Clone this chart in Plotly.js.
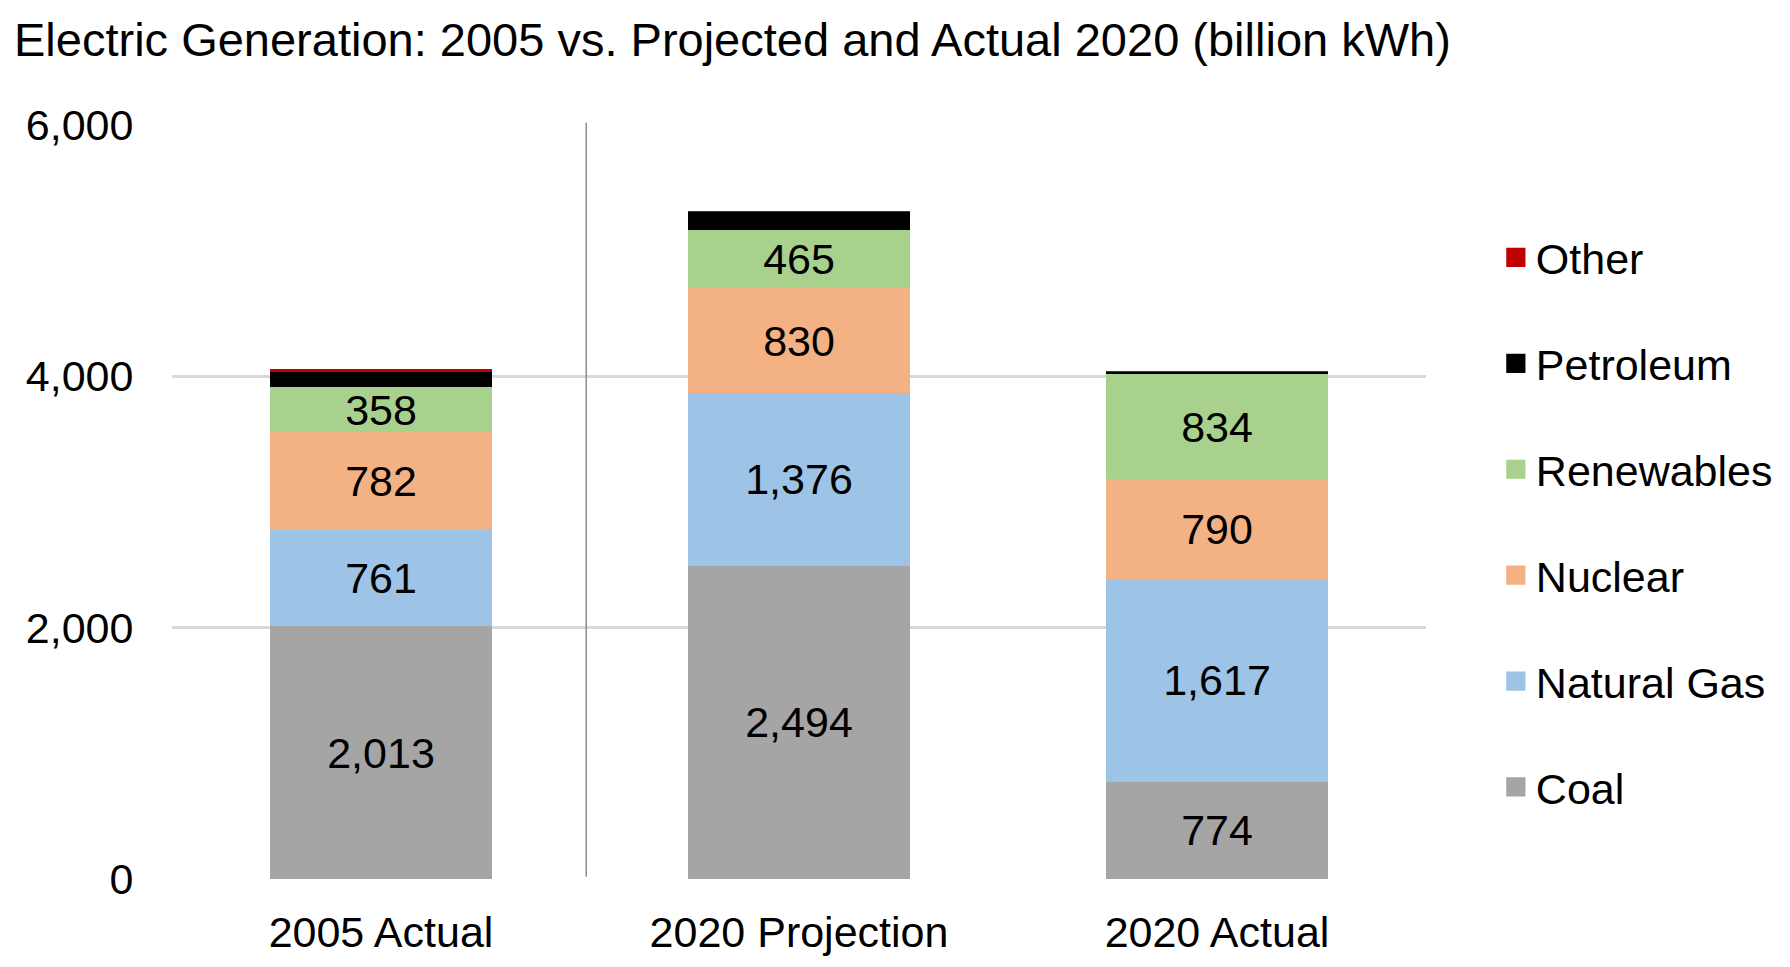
<!DOCTYPE html>
<html>
<head>
<meta charset="utf-8">
<script src="https://cdn.plot.ly/plotly-3.0.1.min.js"></script>
<style>html,body{margin:0;padding:0;background:#fff;}#chart{width:1790px;height:967px;}</style>
</head>
<body>
<div id="chart"></div>
<script>
const categories = ["2005 Actual", "2020 Projection", "2020 Actual"];
const coal = [2013, 2494, 774];
const naturalGas = [761, 1376, 1617];
const nuclear = [782, 830, 790];
const renewables = [358, 465, 834];
const petroleum = [118, 140, 17];
const other = [25, 12, 12];
const yTickVals = [0, 2000, 4000, 6000];

const FONT = '"Liberation Sans", Arial, sans-serif';
const FS = 43;
const series = [
  {name: "Coal", values: coal, color: "#A5A5A5", label: true, rank: 6},
  {name: "Natural Gas", values: naturalGas, color: "#9DC3E6", label: true, rank: 5},
  {name: "Nuclear", values: nuclear, color: "#F4B183", label: true, rank: 4},
  {name: "Renewables", values: renewables, color: "#A9D18E", label: true, rank: 3},
  {name: "Petroleum", values: petroleum, color: "#000000", label: false, rank: 2},
  {name: "Other", values: other, color: "#C00000", label: false, rank: 1}
];

const traces = series.map(s => ({
  type: "bar",
  name: s.name,
  legendgroup: s.name,
  legendrank: s.rank,
  x: categories,
  y: s.values,
  marker: {color: s.color, line: {width: 0}},
  texttemplate: s.label ? "%{y:,d}" : "",
  textposition: s.label ? "inside" : "none",
  insidetextanchor: "middle",
  textfont: {family: FONT, size: FS, color: "#000000"},
  hoverinfo: "x+y+name"
}));

const layout = {
  width: 1790, height: 967,
  barmode: "stack",
  bargap: 0.468,
  paper_bgcolor: "#ffffff",
  plot_bgcolor: "#ffffff",
  font: {family: FONT, size: FS, color: "#000000"},
  margin: {l: 172, r: 362, t: 125, b: 88},
  uniformtext: {mode: "show", minsize: FS},
  title: {
    text: "Electric Generation: 2005 vs. Projected and Actual 2020 (billion kWh)",
    font: {family: FONT, size: 47, color: "#000000"},
    x: 14 / 1790, xanchor: "left", xref: "container",
    y: 1 - 40 / 967, yanchor: "middle", yref: "container"
  },
  xaxis: {
    type: "category",
    showgrid: false, zeroline: false, showline: false,
    ticks: "outside", ticklen: 15, tickcolor: "rgba(0,0,0,0)",
    tickfont: {family: FONT, size: FS, color: "#000000"}
  },
  yaxis: {
    range: [0, 6000],
    tickvals: yTickVals,
    tickformat: ",d",
    showgrid: true, gridcolor: "#D9D9D9", gridwidth: 2.5,
    zeroline: false, showline: false,
    ticks: "outside", ticklen: 29, tickcolor: "rgba(0,0,0,0)",
    tickfont: {family: FONT, size: FS, color: "#000000"}
  },
  legend: {
    x: 1.0557, xanchor: "left",
    y: 0.87, yanchor: "top",
    traceorder: "grouped",
    tracegroupgap: 47,
    font: {family: FONT, size: FS, color: "#000000"},
    itemwidth: 30,
    bgcolor: "rgba(0,0,0,0)"
  },
  shapes: [{
    type: "line", xref: "x", yref: "paper",
    x0: 0.491, x1: 0.491, y0: 0.003, y1: 1.003,
    line: {color: "#8C8C8C", width: 1.5}
  }],
  separators: ".,",
  showlegend: true
};

function enlargeLegendSymbols(gd) {
  gd.querySelectorAll(".legend .legendpoints path").forEach(p => {
    const t = p.getAttribute("transform") || "";
    if (t.indexOf("scale") === -1) p.setAttribute("transform", t + " scale(1.6)");
  });
}

Plotly.newPlot("chart", traces, layout, {displayModeBar: false, staticPlot: true}).then(gd => {
  enlargeLegendSymbols(gd);
});
</script>
</body>
</html>
